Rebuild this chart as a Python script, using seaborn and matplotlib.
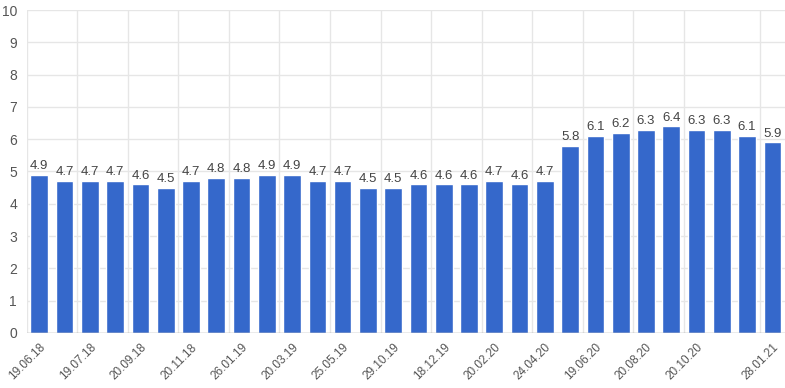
import matplotlib
matplotlib.use("Agg")
import matplotlib.pyplot as plt
import seaborn as sns
import pandas as pd

# Values (one bar per survey)
values = [4.9, 4.7, 4.7, 4.7, 4.6, 4.5, 4.7, 4.8, 4.8, 4.9,
          4.9, 4.7, 4.7, 4.5, 4.5, 4.6, 4.6, 4.6, 4.7, 4.6,
          4.7, 5.8, 6.1, 6.2, 6.3, 6.4, 6.3, 6.3, 6.1, 5.9]

# Only some of the dates are printed on the axis
tick_pos = [0, 2, 4, 6, 8, 10, 12, 14, 16, 18, 20, 22, 24, 26, 29]
tick_labels = ["19.06.18", "19.07.18", "20.09.18", "20.11.18", "26.01.19",
               "20.03.19", "25.05.19", "29.10.19", "18.12.19", "20.02.20",
               "24.04.20", "19.06.20", "20.08.20", "20.10.20", "28.01.21"]
y_ticks = list(range(0, 11))

df = pd.DataFrame({"idx": range(len(values)), "value": values})

sns.set_style("white")
plt.rcParams["font.family"] = ["Liberation Sans", "DejaVu Sans"]

fig = plt.figure(figsize=(7.85, 3.88), dpi=100)
ax = fig.add_axes([0.034, 0.142, 0.966, 0.832])

sns.barplot(data=df, x="idx", y="value", color="#3568CB", saturation=1,
            width=0.7, ax=ax, zorder=2)

# value labels on top of the bars
for c in ax.containers:
    ax.bar_label(c, labels=[f"{v:.1f}" for v in values], padding=2,
                 fontsize=9.5, color="#444444")

ax.set_ylim(0, 10)
ax.set_xlim(-0.5, len(values) - 0.5)
ax.set_yticks(y_ticks)
ax.set_yticklabels([str(t) for t in y_ticks])
ax.set_xticks(tick_pos)
ax.set_xticklabels(tick_labels, rotation=45, ha="right", rotation_mode="anchor")

# grid: horizontal at each integer, vertical at the left edge of labelled bars
for t in y_ticks[1:]:
    ax.axhline(t, color="#e6e6e6", lw=1, zorder=0)
for p in tick_pos:
    ax.axvline(p - 0.5, color="#e6e6e6", lw=1, zorder=0)
ax.axhline(0, color="#999999", lw=1, zorder=3)

ax.tick_params(axis="y", length=0, pad=7, labelsize=10, labelcolor="#555555")
ax.tick_params(axis="x", length=0, pad=6, labelsize=8.5, labelcolor="#555555")
ax.set_xlabel("")
ax.set_ylabel("")
sns.despine(ax=ax, left=True, bottom=True, top=True, right=True)

fig.savefig("out.png", dpi=100)
